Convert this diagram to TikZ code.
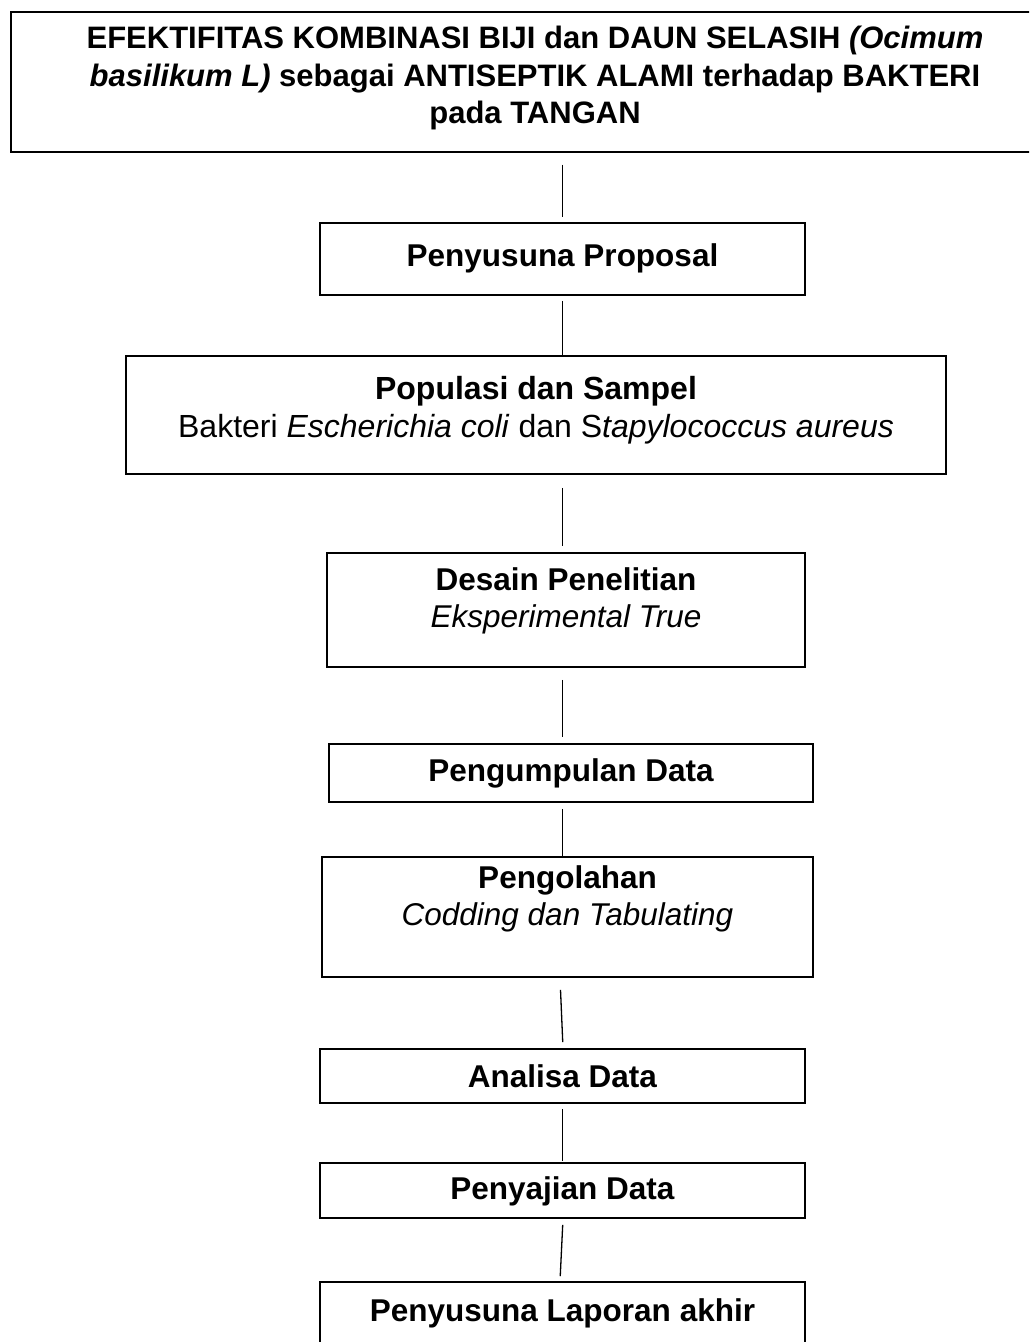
\documentclass[tikz,border=0pt]{standalone}
\usepackage{fontspec}
\setmainfont{Liberation Sans}
\usetikzlibrary{calc}
\begin{document}
\begin{tikzpicture}[x=1pt,y=-1pt,
  boxst/.style={draw=black, line width=1.6pt, rectangle, inner sep=0pt, fill=white},
  txt/.style={align=center, inner sep=0pt, font=\fontsize{31.5}{37.5}\selectfont},
  conn/.style={draw=black, line width=1.3pt}]
\useasboundingbox (0,0) rectangle (1029,1342);
\clip (0,0) rectangle (1029,1342);
\fill[white] (0,0) rectangle (1029,1342);

% boxes
\node[boxst, minimum width=1052pt, minimum height=140pt, anchor=north west] (title) at (10,11) {};
\node[txt, font=\fontsize{31}{37.5}\selectfont] (ttitle) at (535,78) {\textbf{EFEKTIFITAS KOMBINASI BIJI dan DAUN SELASIH \textit{(Ocimum}}\\
  \textbf{\textit{basilikum L)} sebagai ANTISEPTIK ALAMI terhadap BAKTERI}\\
  \textbf{pada TANGAN}};

\node[boxst, minimum width=485pt, minimum height=72pt] (b2) at (562.5,259) {};
\node[txt] (t2) at (562.5,258) {\textbf{Penyusuna Proposal}};

\node[boxst, minimum width=820pt, minimum height=118pt] (b3) at (536,415) {};
\node[txt, font=\fontsize{32}{38}\selectfont] (t3) at (536,410) {\textbf{Populasi dan Sampel}\\
  Bakteri \textit{Escherichia coli} dan S\textit{tapylococcus aureus}};

\node[boxst, minimum width=478pt, minimum height=114pt] (b4) at (566,610) {};
\node[txt, font=\fontsize{31.5}{37}\selectfont] (t4) at (566,601) {\textbf{Desain Penelitian}\\ \textit{Eksperimental True}};

\node[boxst, minimum width=484pt, minimum height=58pt] (b5) at (571,773) {};
\node[txt] (t5) at (571,773) {\textbf{Pengumpulan Data}};

\node[boxst, minimum width=491pt, minimum height=120pt] (b6) at (567.5,917) {};
\node[txt, font=\fontsize{31.5}{37}\selectfont] (t6) at (567.5,899) {\textbf{Pengolahan}\\ \textit{Codding dan Tabulating}};

\node[boxst, minimum width=485pt, minimum height=54pt] (b7) at (562.5,1076) {};
\node[txt] (t7) at (562.5,1076) {\textbf{Analisa Data}};

\node[boxst, minimum width=485pt, minimum height=55pt] (b8) at (562.5,1190.5) {};
\node[txt] (t8) at (562.5,1191) {\textbf{Penyajian Data}};

\node[boxst, minimum width=485pt, minimum height=90pt] (b9) at (562.5,1327) {};
\node[txt] (t9) at (562.5,1313) {\textbf{Penyusuna Laporan akhir}};

% connectors
\draw[conn, shorten <=12pt, shorten >=5pt] (title.south -| b2.north) -- (b2.north);
\draw[conn, shorten <=5pt] (b2.south) -- (b2.south |- b3.north);
\draw[conn, shorten <=13pt, shorten >=6pt] (b3.south -| b2.south) -- (b4.north -| b2.south);
\draw[conn, shorten <=12pt, shorten >=6pt] (b4.south -| b2.south) -- (b5.north -| b2.south);
\draw[conn, shorten <=6pt] (b5.south -| b2.south) -- (b6.north -| b2.south);
\draw[conn, shorten <=12pt, shorten >=6pt] ($(b6.south -| b2.south)+(-2.5,0)$) -- ($(b7.north -| b2.south)+(0.5,0)$);
\draw[conn, shorten <=5pt, shorten >=1pt] (b7.south -| b2.south) -- (b8.north -| b2.south);
\draw[conn, shorten <=6pt, shorten >=5pt] ($(b8.south -| b2.south)+(0.5,0)$) -- ($(b9.north -| b2.south)+(-2.5,0)$);
\end{tikzpicture}
\end{document}
